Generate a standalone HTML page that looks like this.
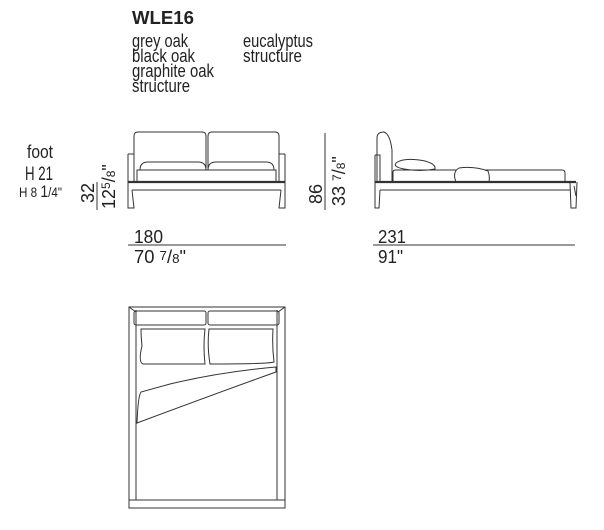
<!DOCTYPE html>
<html><head><meta charset="utf-8"><style>
body{margin:0;background:#fff;width:604px;height:530px;overflow:hidden}
svg{display:block}
text{font-family:"Liberation Sans",sans-serif;fill:#222}
</style></head><body>
<svg width="604" height="530" viewBox="0 0 604 530" fill="none" stroke="#333" stroke-width="1">
<text x="132" y="24" font-size="18" font-weight="bold" stroke="none" textLength="62" lengthAdjust="spacingAndGlyphs">WLE16</text>
<g font-size="18" stroke="none">
<text x="132" y="47" textLength="56" lengthAdjust="spacingAndGlyphs">grey oak</text>
<text x="132" y="62" textLength="63" lengthAdjust="spacingAndGlyphs">black oak</text>
<text x="132" y="77" textLength="82" lengthAdjust="spacingAndGlyphs">graphite oak</text>
<text x="132" y="92" textLength="58" lengthAdjust="spacingAndGlyphs">structure</text>
<text x="243" y="47" textLength="70" lengthAdjust="spacingAndGlyphs">eucalyptus</text>
<text x="243" y="62" textLength="59" lengthAdjust="spacingAndGlyphs">structure</text>
<text x="27" y="158" textLength="26" lengthAdjust="spacingAndGlyphs">foot</text>
<text x="25" y="180" font-size="19" textLength="28" lengthAdjust="spacingAndGlyphs">H 21</text>
<text x="19" y="197" font-size="14" textLength="43" lengthAdjust="spacingAndGlyphs">H 8 <tspan font-size="17">1</tspan>/4"</text>
</g>
<!-- front view -->
<path d="M134 182 V136 Q134 132 138 132 H202 Q206 132 206 136 V168 M208 168 V136 Q208 132 212 132 H275 Q279 132 279 136 V182"/>
<path d="M128 154 H134 M128 154 L128 208 H134 L132 190 M134 154 V182"/>
<path d="M285 154 H279 M285 154 L285 208 H279 L281 190 M279 154 V182"/>
<path d="M140 170 Q140 162 148 162 H198 Q206 162 206 170 M208 170 Q208 162 216 162 H266 Q274 162 274 170"/>
<path d="M137 182 V170 H276 V182"/>
<path d="M128 182 H285" stroke-width="2.2"/>
<path d="M132 190 H281"/>
<line x1="97" y1="182" x2="97" y2="210"/>
<text transform="translate(94,203) rotate(-90)" font-size="18" stroke="none">32</text>
<text transform="translate(115,209) rotate(-90)" font-size="18" stroke="none">12<tspan font-size="12" dy="-5">5</tspan><tspan font-size="18" dy="5">/</tspan><tspan font-size="12">8</tspan>"</text>
<text x="134" y="243" font-size="18" stroke="none" textLength="29" lengthAdjust="spacingAndGlyphs">180</text>
<line x1="128" y1="245" x2="286" y2="245"/>
<text x="134" y="263" font-size="18" stroke="none" textLength="52" lengthAdjust="spacingAndGlyphs">70 <tspan font-size="13" dy="-3">7</tspan><tspan dy="3">/</tspan><tspan font-size="13">8</tspan>"</text>
<!-- side view -->
<path d="M377 182 V138 Q377 132 384 132 Q390 134 392 150 V182"/>
<path d="M375 155 H380 V182 M375 155 V208 H379 L380 190"/>
<path d="M393 182 V172 Q393 170 396 170 H562 Q565 170 565 173 V182"/>
<path d="M396 163 Q404 157 425 161 Q436 164 435 169 Q420 172 404 169 Q393 167 396 163 Z"/>
<path d="M456 182 Q452 172 459 168 Q474 166 488 171 Q490 176 489 182" fill="#fff"/>
<path d="M375 182 H576" stroke-width="2.2"/>
<path d="M380 190 H570"/>
<path d="M570 182 L571 208 H576 L577 182 M574 186 L576 196"/>
<line x1="325" y1="133" x2="325" y2="210"/>
<text transform="translate(322,204) rotate(-90)" font-size="18" stroke="none">86</text>
<text transform="translate(345,206) rotate(-90)" font-size="18" stroke="none">33 <tspan font-size="12" dy="-4">7</tspan><tspan font-size="18" dy="4">/</tspan><tspan font-size="12">8</tspan>"</text>
<text x="378" y="243" font-size="18" stroke="none" textLength="28" lengthAdjust="spacingAndGlyphs">231</text>
<line x1="373" y1="245" x2="575" y2="245"/>
<text x="378" y="263" font-size="18" stroke="none" textLength="25" lengthAdjust="spacingAndGlyphs">91"</text>
<!-- top view -->
<rect x="129" y="307" width="156" height="201"/>
<path d="M136 310 V500 M277 310 V500 M129 500 H285"/>
<path d="M129 307 L136 312 M285 307 L278 312"/>
<rect x="134" y="311" width="72" height="14" rx="2"/>
<rect x="208" y="311" width="71" height="14" rx="2"/>
<path d="M141 329 H205 Q203 346 205 364 H143 Q138 362 142 346 Q141 336 141 329 Z"/>
<path d="M209 329 H273 Q272 346 274 362 Q268 364 210 364 Q207 346 209 329 Z"/>
<path d="M276 367 Q220 372 170 384 L141 392 Q138 396 137 423 Q220 392 276 372 Z"/>
</svg>
</body></html>
